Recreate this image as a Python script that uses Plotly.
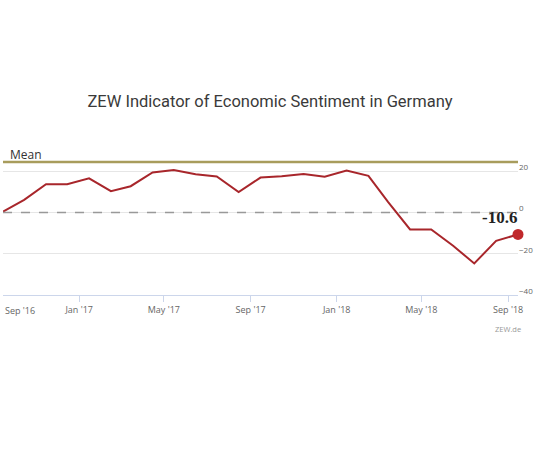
import plotly.graph_objects as go

dates = ["2016-09-15", "2016-10-15", "2016-11-15", "2016-12-15",
         "2017-01-15", "2017-02-15", "2017-03-15", "2017-04-15", "2017-05-15",
         "2017-06-15", "2017-07-15", "2017-08-15", "2017-09-15", "2017-10-15",
         "2017-11-15", "2017-12-15", "2018-01-15", "2018-02-15", "2018-03-15",
         "2018-04-15", "2018-05-15", "2018-06-15", "2018-07-15", "2018-08-15",
         "2018-09-15"]
values = [0.5, 6.2, 13.8, 13.8, 16.6, 10.4, 12.8, 19.5, 20.6, 18.6, 17.5, 10.0,
          17.0, 17.6, 18.7, 17.4, 20.4, 17.8, 5.1, -8.2, -8.2, -16.1, -24.7,
          -13.7, -10.6]
mean_value = 24.5
tick_dates = ["2017-01-01", "2017-05-01", "2017-09-01", "2018-01-01",
              "2018-05-01", "2018-09-01"]
tick_labels = ["Jan '17", "May '17", "Sep '17", "Jan '18", "May '18", "Sep '18"]
y_ticks = [-40, -20, 0, 20]

FONT = "Open Sans"

fig = go.Figure()
fig.add_trace(go.Scatter(
    x=dates, y=values, mode="lines",
    line=dict(color="#a8262b", width=2),
    hoverinfo="skip", showlegend=False,
))
fig.add_trace(go.Scatter(
    x=[dates[-1]], y=[values[-1]], mode="markers",
    marker=dict(color="#c0282b", size=11),
    cliponaxis=False, showlegend=False, hoverinfo="skip",
))
fig.add_annotation(x=dates[-1], y=values[-1], text="<b>%.1f</b>" % values[-1],
                   xanchor="right", yanchor="bottom", yshift=5, xshift=1,
                   showarrow=False,
                   font=dict(family="Liberation Serif", size=17, color="#222"))

# zero line (dashed) and mean line
fig.add_shape(type="line", xref="paper", x0=0, x1=0.99, yref="y", y0=0, y1=0,
              line=dict(color="#999", width=1.5, dash="dash"))
fig.add_shape(type="line", xref="paper", x0=0, x1=1, yref="y",
              y0=mean_value, y1=mean_value,
              line=dict(color="#a89c5c", width=2.5))
fig.add_annotation(text="Mean", xref="paper", x=0.01, xanchor="left",
                   yref="y", y=mean_value, yanchor="bottom", yshift=-3,
                   showarrow=False, font=dict(family=FONT, size=12, color="#333"))
fig.add_annotation(text="Sep '16", xref="paper", x=0.0, xanchor="left",
                   yref="paper", y=0, yanchor="top", yshift=-7,
                   showarrow=False, font=dict(family=FONT, size=9, color="#666"))
fig.add_annotation(text="ZEW.de", xref="paper", x=1.01, xanchor="right",
                   yref="paper", y=0, yanchor="top", yshift=-27,
                   showarrow=False, font=dict(family=FONT, size=7.5, color="#999"))

fig.update_layout(
    width=540, height=454,
    margin=dict(l=3, r=22, t=159, b=159),
    paper_bgcolor="white", plot_bgcolor="white",
    title=dict(text="ZEW Indicator of Economic Sentiment in Germany",
               x=0.5, xanchor="center", y=0.778, yanchor="middle",
               font=dict(family="Roboto", size=16.5, color="#3a3a3a")),
    xaxis=dict(range=["2016-09-15", "2018-09-15"], tickvals=tick_dates,
               ticktext=tick_labels, showgrid=False, ticks="outside",
               ticklen=6, tickcolor="#ccd6eb", showline=True,
               linecolor="#ccd6eb", linewidth=1,
               tickfont=dict(family=FONT, size=9, color="#666"), zeroline=False),
    yaxis=dict(range=[-40, 26], side="right", tickvals=y_ticks,
               showgrid=True, gridcolor="#e6e6e6", zeroline=False,
               ticklabelshift=-4,
               tickfont=dict(family=FONT, size=8, color="#666")),
)

fig.write_html("out.html", config={"displayModeBar": False},
               post_script="document.body.style.margin='0';")
